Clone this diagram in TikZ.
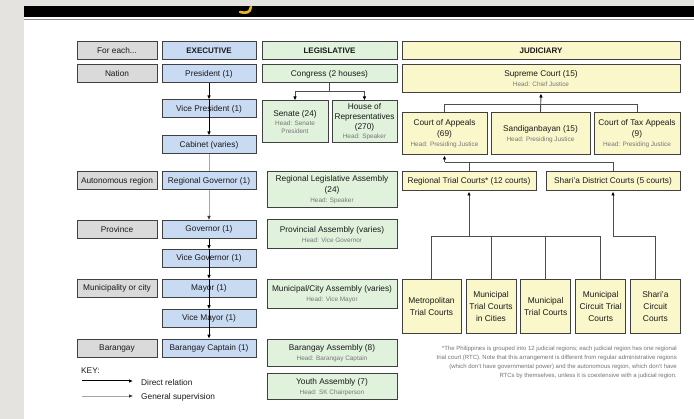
\documentclass[tikz,border=0pt]{standalone}
\usepackage{fontspec}
\setmainfont{Liberation Sans}
\usetikzlibrary{arrows.meta}
\definecolor{bgpage}{HTML}{E4E3E0}
\definecolor{bordc}{HTML}{404040}
\definecolor{grayf}{HTML}{DADADA}
\definecolor{bluef}{HTML}{C8DBF3}
\definecolor{greenf}{HTML}{E0F1DC}
\definecolor{yellowf}{HTML}{FAF7CB}
\definecolor{headc}{HTML}{777777}
\definecolor{txtc}{HTML}{1A1A1A}
\definecolor{titley}{HTML}{E8B620}
\definecolor{linec}{HTML}{4C4C4C}
\pgfdeclarelayer{bg}
\pgfsetlayers{bg,main}
\newcommand\hdtxt[1]{{\fontsize{6.4}{8}\selectfont\color{headc}#1}}
\begin{document}
\begin{tikzpicture}[x=1pt,y=-1pt,
  box/.style={draw=bordc, line width=1pt, inner sep=1pt, align=center, text=txtc, font=\fontsize{8.3}{11}\selectfont},
  gbox/.style={box, fill=grayf, minimum width=80pt, minimum height=18pt},
  ebox/.style={box, fill=bluef, minimum width=94pt, minimum height=18pt},
  lbox/.style={box, fill=greenf},
  jbox/.style={box, fill=yellowf},
  hdr/.style={font=\fontsize{8}{10}\selectfont\bfseries},
  tree/.style={draw=linec, line width=0.9pt},
  arr/.style={draw=linec, line width=0.9pt, -{Latex[length=4pt,width=3.5pt,color=black]}},
  direct/.style={draw=black, line width=1pt, -{Latex[length=4pt,width=3.5pt]}},
  superv/.style={draw=black!35, line width=0.6pt, -{Latex[length=4pt,width=3.5pt,color=black!80]}},
  keytxt/.style={anchor=west, inner sep=0pt, text=txtc, font=\fontsize{8.3}{10}\selectfont}]
\useasboundingbox (0,0) rectangle (694,419);
\begin{pgfonlayer}{bg}
  \fill[bgpage] (0,0) rectangle (694,419);
  \fill[white] (24,17) rectangle (694,419);
  \fill[black] (24,6) rectangle (694,17);
  \draw[black!45, line width=0.7pt] (24,19.3) -- (694,19.3);
  \draw[titley, line width=2.6pt, line cap=round] (251,7) .. controls (250,13) and (246,13.5) .. (240,12);
\end{pgfonlayer}

% left column
\node[gbox] (foreach) at (117,50.75) {For each...};
\node[gbox] (nation) at (117,74) {Nation};
\node[gbox] (auto) at (117,181) {Autonomous region};
\node[gbox] (prov) at (117,229.5) {Province};
\node[gbox] (muni) at (117,288.5) {Municipality or city};
\node[gbox] (brgy) at (117,348.25) {Barangay};

% executive
\node[ebox, hdr] (exec) at (209,50.75) {EXECUTIVE};
\node[ebox] (pres) at (209,74) {President (1)};
\node[ebox] (vp) at (209,109) {Vice President (1)};
\node[ebox] (cab) at (209,145) {Cabinet (varies)};
\node[ebox] (rgov) at (209,181) {Regional Governor (1)};
\node[ebox] (gov) at (209,229.5) {Governor (1)};
\node[ebox] (vgov) at (209,258.75) {Vice Governor (1)};
\node[ebox] (mayor) at (209,288.5) {Mayor (1)};
\node[ebox] (vmayor) at (209,318.75) {Vice Mayor (1)};
\node[ebox] (capt) at (209,348.25) {Barangay Captain (1)};

% legislative
\node[lbox, hdr, minimum width=135pt, minimum height=18pt] (leg) at (329.5,50.75) {LEGISLATIVE};
\node[lbox, minimum width=135pt, minimum height=18pt] (cong) at (329.5,74) {Congress (2 houses)};
\node[lbox, minimum width=66pt, minimum height=42pt] (senate) at (295,122) {Senate (24)\\[-2pt]\hdtxt{Head: Senate}\\[-3pt]\hdtxt{President}};
\node[lbox, minimum width=65pt, minimum height=42pt, font=\fontsize{8.3}{10}\selectfont] (house) at (364.5,122) {House of\\Representatives\\(270)\\[-1pt]\hdtxt{Head: Speaker}};
\node[lbox, minimum width=130pt, minimum height=36pt] (rla) at (332,190) {Regional Legislative Assembly\\(24)\\[-1pt]\hdtxt{Head: Speaker}};
\node[lbox, minimum width=130pt, minimum height=29pt] (pa) at (332,234.5) {Provincial Assembly (varies)\\[-1pt]\hdtxt{Head: Vice Governor}};
\node[lbox, minimum width=130pt, minimum height=29pt] (mca) at (332,294.5) {Municipal/City Assembly (varies)\\[-1pt]\hdtxt{Head: Vice Mayor}};
\node[lbox, minimum width=130pt, minimum height=27.5pt] (ba) at (332,353.25) {Barangay Assembly (8)\\[-1pt]\hdtxt{Head: Barangay Captain}};
\node[lbox, minimum width=130pt, minimum height=26.5pt] (ya) at (332,386.75) {Youth Assembly (7)\\[-1pt]\hdtxt{Head: SK Chairperson}};

% judiciary
\node[jbox, hdr, minimum width=278pt, minimum height=18pt] (jud) at (541,50.75) {JUDICIARY};
\node[jbox, minimum width=278pt, minimum height=28pt] (sc) at (541,79) {Supreme Court (15)\\[-1pt]\hdtxt{Head: Chief Justice}};
\node[jbox, minimum width=85pt, minimum height=42pt] (ca) at (444.5,134) {Court of Appeals\\(69)\\[-1pt]\hdtxt{Head: Presiding Justice}};
\node[jbox, minimum width=99pt, minimum height=42pt] (sandi) at (540.5,134) {Sandiganbayan (15)\\[-1pt]\hdtxt{Head: Presiding Justice}};
\node[jbox, minimum width=86pt, minimum height=42pt] (cta) at (637,134) {Court of Tax Appeals\\(9)\\[-1pt]\hdtxt{Head: Presiding Justice}};
\node[jbox, minimum width=134pt, minimum height=19pt] (rtc) at (469,181.5) {Regional Trial Courts* (12 courts)};
\node[jbox, minimum width=134pt, minimum height=19pt] (sdc) at (613,181.5) {Shari'a District Courts (5 courts)};
\node[jbox, minimum width=59pt, minimum height=54pt, font=\fontsize{8.4}{11.7}\selectfont] (metro) at (431.5,306.5) {Metropolitan\\Trial Courts};
\node[jbox, minimum width=50pt, minimum height=54pt, font=\fontsize{8.4}{11.7}\selectfont] (mtcc) at (491,306.5) {Municipal\\Trial Courts\\in Cities};
\node[jbox, minimum width=50pt, minimum height=54pt, font=\fontsize{8.4}{11.7}\selectfont] (mtc) at (545.7,306.5) {Municipal\\Trial Courts};
\node[jbox, minimum width=50pt, minimum height=54pt, font=\fontsize{8.4}{11.7}\selectfont] (mctc) at (600.7,306.5) {Municipal\\Circuit Trial\\Courts};
\node[jbox, minimum width=49.3pt, minimum height=54pt, font=\fontsize{8.4}{11.7}\selectfont] (scc) at (655.35,306.5) {Shari'a\\Circuit\\Courts};

% footnote
\node[anchor=north east, inner sep=0pt, align=right, text=black!55, font=\fontsize{6}{8.9}\selectfont] (note) at (677,346) {*The Philippines is grouped into 12 judicial regions; each judicial region has one regional\\trial court (RTC). Note that this arrangement is different from regular administrative regions\\(which don't have governmental power) and the autonomous region, which don't have\\RTCs by themselves, unless it is coextensive with a judicial region.};

% key
\node[keytxt] (key) at (81,370.7) {KEY:};
\coordinate (k1a) at (82,381);
\coordinate (k1b) at (133,381);
\coordinate (k2a) at (82,396);
\coordinate (k2b) at (133,396);
\draw[direct] (k1a) -- (k1b);
\draw[superv] (k2a) -- (k2b);
\node[keytxt] (kd) at (141,382.5) {Direct relation};
\node[keytxt] (kg) at (141,397) {General supervision};

% executive connectors
\begin{pgfonlayer}{bg}
  \draw[superv] (cab.south) -- (gov.north);
\end{pgfonlayer}
\draw[direct] (pres.south) -- (vp.north);
\draw[direct] (vp.north) -- (cab.north);
\draw[direct] (gov.south) -- (vgov.north);
\draw[direct] (vgov.north) -- (mayor.north);
\draw[direct] (mayor.north) -- (vmayor.north);
\draw[direct] (vmayor.north) -- (capt.north);

% legislative connectors
\coordinate (l1) at (0,91.7);
\draw[tree] (cong.south) -- (cong.south |- l1);
\draw[tree] (senate.north |- l1) -- (house.north |- l1);
\draw[arr] (senate.north |- l1) -- (senate.north);
\draw[arr] (house.north |- l1) -- (house.north);

% judiciary connectors
\coordinate (j1) at (0,104);
\coordinate (j2) at (0,162.3);
\coordinate (j3) at (0,236);
\draw[arr] (sandi.north) -- (sc.south);
\draw[tree] (ca.north) -- (ca.north |- j1) -- (cta.north |- j1) -- (cta.north);
\draw[tree] (rtc.north) -- (rtc.north |- j2);
\draw[tree] (ca.south |- j2) -- (sdc.north |- j2) -- (sdc.north);
\draw[arr] (ca.south |- j2) -- (ca.south);
\draw[tree] (metro.north) -- (metro.north |- j3) -- (mctc.north |- j3) -- (mctc.north);
\draw[tree] (mtcc.north) -- (mtcc.north |- j3);
\draw[tree] (mtc.north) -- (mtc.north |- j3);
\draw[arr] (rtc.south |- j3) -- (rtc.south);
\draw[tree] (sdc.south |- j3) -- (scc.north |- j3) -- (scc.north);
\draw[arr] (sdc.south |- j3) -- (sdc.south);
\end{tikzpicture}
\end{document}
